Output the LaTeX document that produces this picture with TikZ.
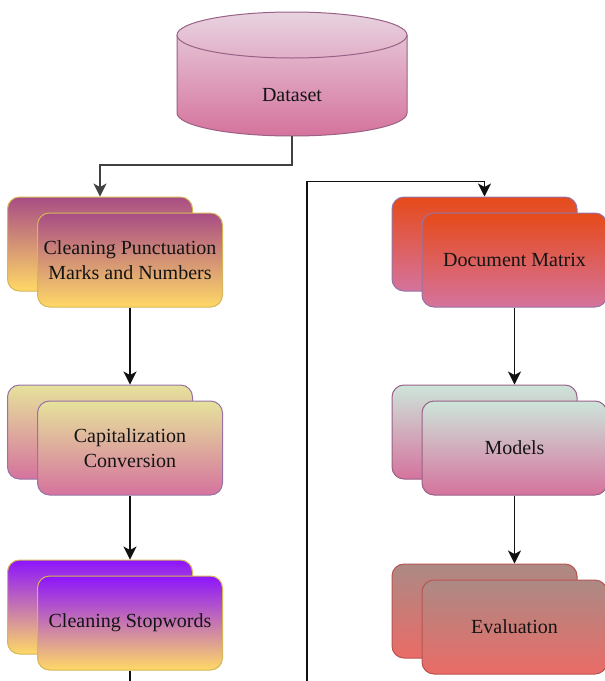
\documentclass[tikz,border=0pt]{standalone}
\usepackage{fontspec}
\setmainfont{Liberation Serif}
\newfontfamily\boxfont{Liberation Serif}
\usetikzlibrary{arrows.meta,positioning,calc}
\definecolor{ink}{HTML}{141414}
\definecolor{wire}{HTML}{111111}
\definecolor{gold}{HTML}{D6B656}
\definecolor{plum}{HTML}{9673A6}
\definecolor{mauve}{HTML}{996185}
\definecolor{brick}{HTML}{B85450}
\definecolor{punctop}{HTML}{A84C85}
\definecolor{sand}{HTML}{FFD966}
\definecolor{lime}{HTML}{E6E29C}
\definecolor{rose}{HTML}{D5739D}
\definecolor{violet}{HTML}{8C14FC}
\definecolor{flame}{HTML}{E64A19}
\definecolor{mint}{HTML}{CDE5DA}
\definecolor{clay}{HTML}{AC8A85}
\definecolor{coral}{HTML}{EA6B66}
\definecolor{blush}{HTML}{E8D3E0}
\tikzset{
  stagebox/.style n args={3}{draw=#1,top color=#2,bottom color=#3,rounded corners=12pt,line width=1pt,
    minimum width=185pt,minimum height=94pt,align=center,text=ink,font=\boxfont\fontsize{20}{25}\selectfont},
  store/.style={minimum width=230pt,minimum height=124pt,inner sep=0pt,outer sep=0pt},
  storeskin/.style={draw=mauve,top color=blush,bottom color=rose,line width=1pt},
  caption/.style={text=ink,font=\boxfont\fontsize{20}{25}\selectfont},
  flow/.style={-{Stealth[length=13pt,width=13pt,inset=3.5pt]},line width=1.2pt,draw=wire}
}
\begin{document}
\begin{tikzpicture}[x=1pt,y=-1pt]
  \useasboundingbox (0,0) rectangle (605,681);
  \clip (0,0) rectangle (605,681);

  % dataset cylinder
  \node[store] (dataset) at (292,74) {};
  \path[storeskin] ($(dataset.north west)+(0,23)$) -- ($(dataset.south west)+(0,-23)$)
    arc[start angle=180,end angle=360,x radius=115pt,y radius=23pt]
    -- ($(dataset.north east)+(0,23)$)
    arc[start angle=0,end angle=180,x radius=115pt,y radius=23pt] -- cycle;
  \draw[mauve,line width=1pt] ($(dataset.north west)+(0,23)$)
    arc[start angle=180,end angle=360,x radius=115pt,y radius=23pt];
  \node[caption] (datasettext) at ($(dataset.center)+(0,21)$) {Dataset};

  % left column
  \node[stagebox={gold}{punctop}{sand}] (punctback) at (100,244) {};
  \node[stagebox={gold}{punctop}{sand},anchor=north west] (punct) at ([xshift=30pt,yshift=-16pt]punctback.north west) {Cleaning Punctuation\\Marks and Numbers};
  \node[stagebox={plum}{lime}{rose},below=93pt of punctback] (capsback) {};
  \node[stagebox={plum}{lime}{rose},anchor=north west] (caps) at ([xshift=30pt,yshift=-16pt]capsback.north west) {Capitalization\\Conversion};
  \node[stagebox={gold}{violet}{sand},below=80pt of capsback] (stopback) {};
  \node[stagebox={gold}{violet}{sand},anchor=north west] (stop) at ([xshift=30pt,yshift=-16pt]stopback.north west) {Cleaning Stopwords};

  % right column
  \node[stagebox={plum}{flame}{rose}] (matrixback) at (484.5,244) {};
  \node[stagebox={plum}{flame}{rose},anchor=north west] (matrix) at ([xshift=30pt,yshift=-16pt]matrixback.north west) {Document Matrix};
  \node[stagebox={mauve}{mint}{rose},below=93pt of matrixback] (modelsback) {};
  \node[stagebox={mauve}{mint}{rose},anchor=north west] (models) at ([xshift=30pt,yshift=-16pt]modelsback.north west) {Models};
  \node[stagebox={brick}{clay}{coral},below=84pt of modelsback] (evalback) {};
  \node[stagebox={brick}{clay}{coral},anchor=north west] (eval) at ([xshift=30pt,yshift=-16pt]evalback.north west) {Evaluation};

  \coordinate (detour) at (307,700);

  \draw[flow,draw=wire!80] (dataset.south) -- ++(0,29) -| (punctback.north);
  \draw[flow] (punct.south) -- (punct.south |- capsback.north);
  \draw[flow] (caps.south) -- (caps.south |- stopback.north);
  \draw[flow] (stop.south) |- (detour) |- ($(matrixback.north)+(0,-15)$) -- (matrixback.north);
  \draw[flow] (matrix.south) -- (matrix.south |- modelsback.north);
  \draw[flow] (models.south) -- (models.south |- evalback.north);
\end{tikzpicture}
\end{document}
